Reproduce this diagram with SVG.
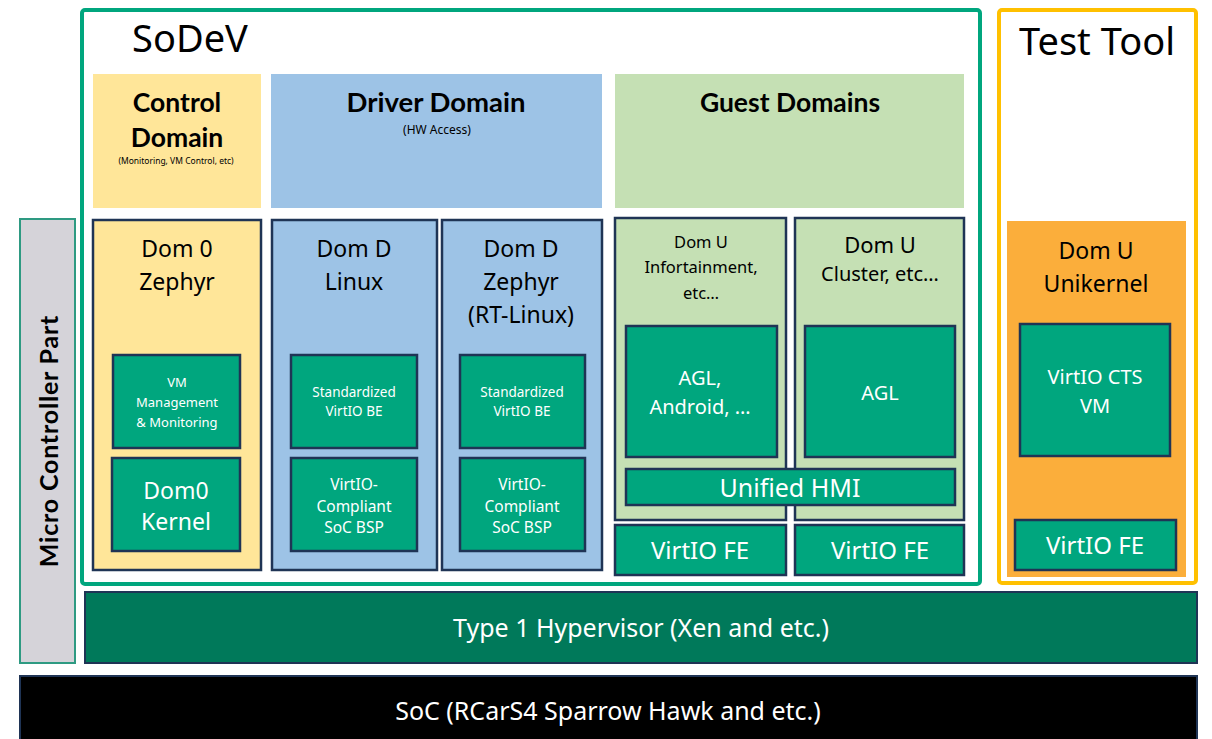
<svg xmlns="http://www.w3.org/2000/svg" width="1212" height="739" viewBox="0 0 1212 739">
<style>
.t{font-family:"Noto Sans","Open Sans",sans-serif;text-anchor:middle;fill:#000}
.b{font-family:"Lato","Noto Sans",sans-serif;font-weight:bold;text-anchor:middle;fill:#000}
.w{font-family:"Noto Sans","Open Sans",sans-serif;text-anchor:middle;fill:#fff}
.g{fill:#00A67E;stroke:#1F3455;stroke-width:2.5}
.dom{stroke:#1F3455;stroke-width:2.5}
</style>
<rect width="1212" height="739" fill="#fff"/>
<g id="sodev">
<rect x="82" y="10" width="898" height="574" rx="3" fill="none" stroke="#00A67E" stroke-width="4"/>
<text class="t" x="190" y="52" font-size="38">SoDeV</text>
</g>
<g id="testtool">
<rect x="999" y="10" width="197" height="573" rx="3" fill="none" stroke="#FFC000" stroke-width="4"/>
<text class="t" x="1097" y="55" font-size="38">Test Tool</text>
</g>
<g id="mcu">
<rect x="20" y="219" width="55" height="444" fill="#D5D3D9" stroke="#2E9A82" stroke-width="2"/>
<text class="b" transform="translate(58,441) rotate(-90)" font-size="25" letter-spacing="0.8">Micro Controller  Part</text>
</g>
<g id="control-domain">
<rect x="93" y="74" width="168" height="134" fill="#FFE699"/>
<text class="b" x="177" y="112" font-size="26.5">Control</text>
<text class="b" x="177" y="147" font-size="26.5">Domain</text>
<text class="t" x="176" y="164" font-size="8.5">(Monitoring, VM Control, etc)</text>
</g>
<g id="driver-domain">
<rect x="271" y="74" width="331" height="134" fill="#9DC3E6"/>
<text class="b" x="436" y="112" font-size="27.5">Driver Domain</text>
<text class="t" x="437" y="134" font-size="12">(HW Access)</text>
</g>
<g id="guest-domains">
<rect x="615" y="74" width="349" height="134" fill="#C5E0B4"/>
<text class="b" x="790" y="112" font-size="26.5">Guest Domains</text>
</g>
<g id="dom0">
<rect class="dom" x="93" y="220" width="168" height="350" fill="#FFE699"/>
<text class="t" x="177" y="257" font-size="23">Dom 0</text>
<text class="t" x="177" y="290" font-size="23">Zephyr</text>
</g>
<g id="vm-mgmt">
<rect class="g" x="113" y="355" width="127" height="93"/>
<text class="w" x="177" y="387" font-size="13">VM</text>
<text class="w" x="177" y="407" font-size="13">Management</text>
<text class="w" x="177" y="427" font-size="13">&amp; Monitoring</text>
</g>
<g id="dom0-kernel">
<rect class="g" x="112" y="458" width="128" height="93"/>
<text class="w" x="176" y="499" font-size="23">Dom0</text>
<text class="w" x="176" y="530" font-size="23">Kernel</text>
</g>
<g id="domd-linux">
<rect class="dom" x="272" y="220" width="165" height="350" fill="#9DC3E6"/>
<text class="t" x="354" y="257" font-size="23">Dom D</text>
<text class="t" x="354" y="290" font-size="23">Linux</text>
</g>
<g id="be-linux">
<rect class="g" x="291" y="355" width="126" height="93"/>
<text class="w" x="354" y="397" font-size="13.5">Standardized</text>
<text class="w" x="354" y="416" font-size="13.5">VirtIO BE</text>
</g>
<g id="bsp-linux">
<rect class="g" x="291" y="458" width="126" height="93"/>
<text class="w" x="354" y="490" font-size="15.5">VirtIO-</text>
<text class="w" x="354" y="512" font-size="15.5">Compliant</text>
<text class="w" x="354" y="533" font-size="15.5">SoC BSP</text>
</g>
<g id="domd-zephyr">
<rect class="dom" x="442" y="220" width="160" height="350" fill="#9DC3E6"/>
<text class="t" x="521" y="257" font-size="23">Dom D</text>
<text class="t" x="521" y="290" font-size="23">Zephyr</text>
<text class="t" x="521" y="323" font-size="23">(RT-Linux)</text>
</g>
<g id="be-zephyr">
<rect class="g" x="460" y="355" width="125" height="93"/>
<text class="w" x="522" y="397" font-size="13.5">Standardized</text>
<text class="w" x="522" y="416" font-size="13.5">VirtIO BE</text>
</g>
<g id="bsp-zephyr">
<rect class="g" x="460" y="458" width="125" height="93"/>
<text class="w" x="522" y="490" font-size="15.5">VirtIO-</text>
<text class="w" x="522" y="512" font-size="15.5">Compliant</text>
<text class="w" x="522" y="533" font-size="15.5">SoC BSP</text>
</g>
<g id="domu-info">
<rect class="dom" x="615" y="218" width="171" height="302" fill="#C5E0B4"/>
<text class="t" x="701" y="248" font-size="16.5">Dom U</text>
<text class="t" x="701" y="273" font-size="16.5">Infortainment,</text>
<text class="t" x="701" y="299" font-size="16.5">etc…</text>
</g>
<g id="domu-cluster">
<rect class="dom" x="795" y="218" width="169" height="302" fill="#C5E0B4"/>
<text class="t" x="880" y="253" font-size="22">Dom U</text>
<text class="t" x="880" y="281" font-size="20">Cluster, etc…</text>
</g>
<g id="agl-android">
<rect class="g" x="626" y="326" width="151" height="131"/>
<text class="w" x="700" y="385" font-size="20">AGL,</text>
<text class="w" x="700" y="414" font-size="20">Android, …</text>
</g>
<g id="agl">
<rect class="g" x="805" y="326" width="150" height="131"/>
<text class="w" x="880" y="400" font-size="20">AGL</text>
</g>
<g id="unified-hmi">
<rect class="g" x="626" y="469" width="329" height="36"/>
<text class="w" x="790" y="497" font-size="25">Unified HMI</text>
</g>
<g id="fe-info">
<rect class="g" x="615" y="525" width="171" height="50"/>
<text class="w" x="700" y="559" font-size="24">VirtIO FE</text>
</g>
<g id="fe-cluster">
<rect class="g" x="795" y="525" width="169" height="50"/>
<text class="w" x="880" y="559" font-size="24">VirtIO FE</text>
</g>
<g id="domu-unikernel">
<rect x="1007" y="221" width="179" height="356" fill="#FBAE3B"/>
<text class="t" x="1096" y="259" font-size="23">Dom U</text>
<text class="t" x="1096" y="292" font-size="23">Unikernel</text>
</g>
<g id="cts-vm">
<rect class="g" x="1020" y="324" width="150" height="132"/>
<text class="w" x="1095" y="384" font-size="20">VirtIO CTS</text>
<text class="w" x="1095" y="413" font-size="20">VM</text>
</g>
<g id="fe-test">
<rect class="g" x="1015" y="520" width="161" height="50"/>
<text class="w" x="1095" y="554" font-size="24">VirtIO FE</text>
</g>
<g id="hypervisor">
<rect x="85" y="592" width="1112" height="71" fill="#00795A" stroke="#1F3455" stroke-width="2"/>
<text class="w" x="641" y="637" font-size="25">Type 1 Hypervisor (Xen and etc.)</text>
</g>
<g id="soc">
<rect x="20" y="676" width="1177" height="70" fill="#000" stroke="#1F3455" stroke-width="2"/>
<text class="w" x="608" y="720" font-size="25">SoC (RCarS4 Sparrow Hawk and etc.)</text>
</g>
<g id="connectors"></g>
</svg>
